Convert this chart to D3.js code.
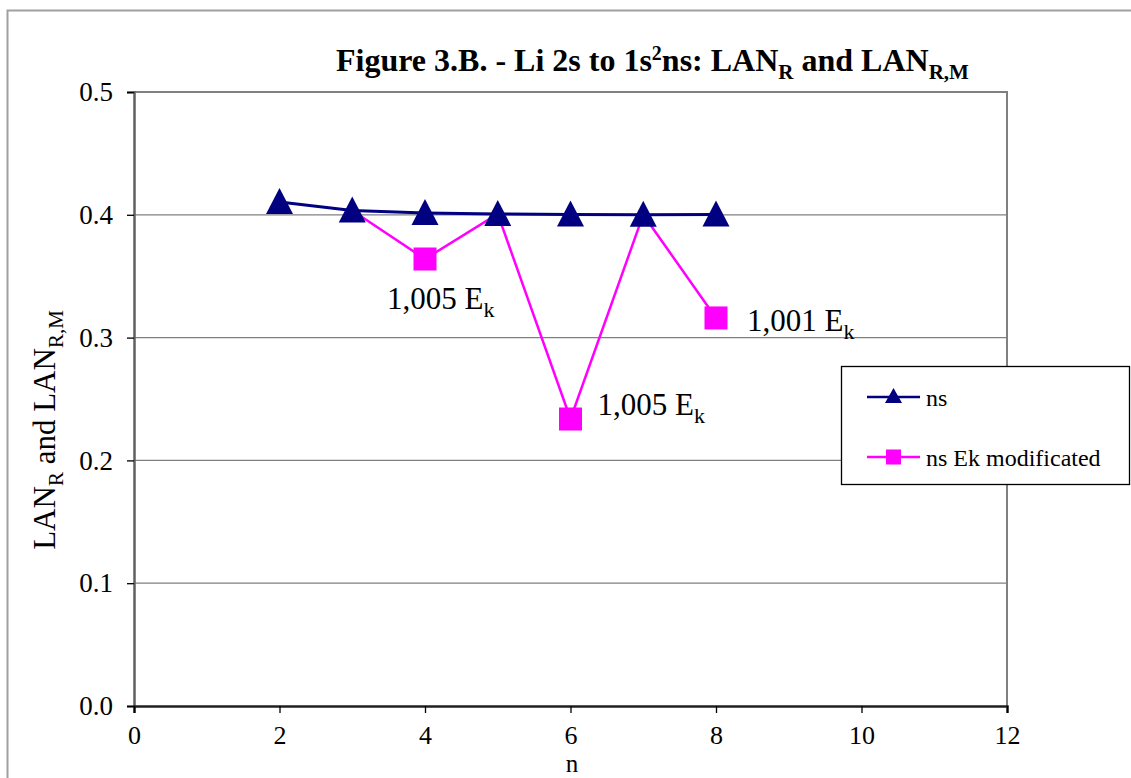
<!DOCTYPE html>
<html><head><meta charset="utf-8">
<script src="https://cdn.jsdelivr.net/npm/d3@7"></script>
<style>
body{margin:0;background:#fff;overflow:hidden}
text{font-family:"Liberation Serif","Times New Roman",serif;fill:#000}
</style>
</head><body>
<svg id="chart" width="1131" height="778"></svg>
<script>
// ---- data ----
const nValues = [2, 3, 4, 5, 6, 7, 8];
const nsValues = [0.4105, 0.4035, 0.4015, 0.4007, 0.4003, 0.4001, 0.4002];
const ekN = [3, 4, 5, 6, 7, 8];
const ekValues = [0.4035, 0.364, 0.4007, 0.2337, 0.4001, 0.316];
const ekMarked = [false, true, false, true, false, true];
const xTicks = [0, 2, 4, 6, 8, 10, 12];
const yTicks = [0, 0.1, 0.2, 0.3, 0.4, 0.5];
const seriesNames = ["ns", "ns Ek modificated"];
const annoN = [4, 6, 8];
const annoValues = [0.364, 0.2337, 0.316];
const annoText = ["1,005 E", "1,005 E", "1,001 E"];
const annoSub = ["k", "k", "k"];

// ---- layout ----
const svg = d3.select("#chart");
const L = 134, R = 1007, T = 92, B = 706;
const x = d3.scaleLinear().domain([0, 12]).range([L, R]);
const y = d3.scaleLinear().domain([0, 0.5]).range([B, T]);
const navy = "#000080", magenta = "#FF00FF";

// outer chart border
svg.append("path").attr("d", "M7.5,778 V10.5 H1131").attr("fill", "none")
  .attr("stroke", "#a0a0a0").attr("stroke-width", 2);

// gridlines
svg.append("g").selectAll("line").data(yTicks.filter(d => d > 0 && d < 0.5)).join("line")
  .attr("x1", L).attr("x2", R).attr("y1", d => y(d)).attr("y2", d => y(d))
  .attr("stroke", "#808080").attr("stroke-width", 1.3);

// plot border top/right
svg.append("path").attr("d", `M${L},${T} H${R} V${B}`).attr("fill", "none")
  .attr("stroke", "#808080").attr("stroke-width", 2);

// axes
const yAxis = d3.axisLeft(y).tickValues(yTicks).tickFormat(d3.format(".1f")).tickSize(7).tickPadding(14);
const gy = svg.append("g").attr("transform", `translate(${L},0)`).call(yAxis);
gy.select(".domain").attr("stroke", "#606060").attr("stroke-width", 2.5);
gy.selectAll(".tick line").attr("stroke", "#000").attr("stroke-width", 1.3);
gy.selectAll("text").style("font-size", "27px").attr("font-family", "Liberation Serif");

const xAxis = d3.axisBottom(x).tickValues(xTicks).tickFormat(d3.format("d")).tickSize(7).tickPadding(13);
const gx = svg.append("g").attr("transform", `translate(0,${B})`).call(xAxis);
gx.select(".domain").attr("stroke", "#202020").attr("stroke-width", 2.5);
gx.selectAll(".tick line").attr("stroke", "#000").attr("stroke-width", 1.3);
gx.selectAll("text").style("font-size", "26px").attr("font-family", "Liberation Serif");

// axis titles
svg.append("text").attr("x", 572).attr("y", 772).attr("text-anchor", "middle")
  .style("font-size", "25px").text("n");

const yt = svg.append("text").attr("transform", `translate(55,430) rotate(-90)`)
  .attr("text-anchor", "middle").style("font-size", "31px");
yt.append("tspan").text("LAN");
yt.append("tspan").attr("dy", 8).style("font-size", "21px").text("R");
yt.append("tspan").attr("dy", -8).text(" and LAN");
yt.append("tspan").attr("dy", 8).style("font-size", "21px").text("R,M");

// title
const tt = svg.append("text").attr("x", 336).attr("y", 71).style("font-size", "32px").style("font-weight", "bold");
tt.append("tspan").text("Figure 3.B. - Li 2s to 1s");
tt.append("tspan").attr("dy", -11).style("font-size", "20px").text("2");
tt.append("tspan").attr("dy", 11).text("ns: LAN");
tt.append("tspan").attr("dy", 8).style("font-size", "21px").text("R");
tt.append("tspan").attr("dy", -8).text(" and LAN");
tt.append("tspan").attr("dy", 8).style("font-size", "21px").text("R,M");

// series lines
const line = d3.line().x(d => x(d[0])).y(d => y(d[1]));
const ekData = ekN.map((n, i) => [n, ekValues[i], ekMarked[i]]);
const nsData = nValues.map((n, i) => [n, nsValues[i]]);

svg.append("path").datum(ekData).attr("d", line).attr("fill", "none")
  .attr("stroke", magenta).attr("stroke-width", 2.5);
svg.append("g").selectAll("rect").data(ekData.filter(d => d[2])).join("rect")
  .attr("x", d => x(d[0]) - 11.5).attr("y", d => y(d[1]) - 11.5)
  .attr("width", 23).attr("height", 23).attr("fill", magenta);

svg.append("path").datum(nsData).attr("d", line).attr("fill", "none")
  .attr("stroke", navy).attr("stroke-width", 3);
const triPath = "M0,-14 L13.5,12 L-13.5,12 Z";
svg.append("g").selectAll("path").data(nsData).join("path")
  .attr("transform", d => `translate(${x(d[0])},${y(d[1])})`)
  .attr("d", triPath).attr("fill", navy);

// annotations
const annoOffset = [[-38, 50], [27, -4], [31, 13]];
annoN.forEach((n, i) => {
  const t = svg.append("text").attr("x", x(n) + annoOffset[i][0]).attr("y", y(annoValues[i]) + annoOffset[i][1])
    .style("font-size", "31px");
  t.append("tspan").text(annoText[i]);
  t.append("tspan").attr("dy", 8).style("font-size", "22px").text(annoSub[i]);
});

// legend
const lg = svg.append("g");
lg.append("rect").attr("x", 841.5).attr("y", 366.5).attr("width", 288).attr("height", 118)
  .attr("fill", "#fff").attr("stroke", "#000").attr("stroke-width", 1.3);
const legY = [397, 457];
const legColor = [navy, magenta];
seriesNames.forEach((name, i) => {
  lg.append("line").attr("x1", 867).attr("x2", 920).attr("y1", legY[i]).attr("y2", legY[i])
    .attr("stroke", legColor[i]).attr("stroke-width", 2.5);
  if (i === 0) {
    lg.append("path").attr("transform", `translate(893.5,${legY[i]})`)
      .attr("d", "M0,-9 L8.5,6 L-8.5,6 Z").attr("fill", navy);
  } else {
    lg.append("rect").attr("x", 886).attr("y", legY[i] - 7.5).attr("width", 15).attr("height", 15).attr("fill", magenta);
  }
  lg.append("text").attr("x", 926).attr("y", legY[i] + 9).style("font-size", "24px").text(name);
});
</script>
</body></html>
